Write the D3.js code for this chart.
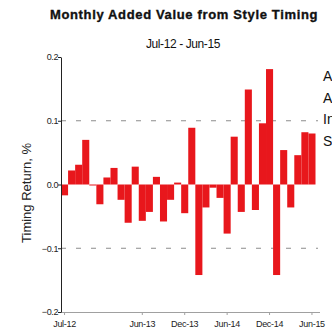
<!DOCTYPE html>
<html lang="en">
<head>
    <meta charset="UTF-8">
    <script src="https://d3js.org/d3.v7.min.js"></script>
    <title>Monthly Added Value from Style Timing</title>
    <style>
        body { margin: 0; background: #fff; }
        svg { display: block; font-family: "Liberation Sans", Arial, sans-serif; }
    </style>
</head>
<body>
    <svg></svg>
    <script>
        // monthly timing return, %
        const months = [
            'Jul-12', 'Aug-12', 'Sep-12', 'Oct-12', 'Nov-12', 'Dec-12',
            'Jan-13', 'Feb-13', 'Mar-13', 'Apr-13', 'May-13', 'Jun-13',
            'Jul-13', 'Aug-13', 'Sep-13', 'Oct-13', 'Nov-13', 'Dec-13',
            'Jan-14', 'Feb-14', 'Mar-14', 'Apr-14', 'May-14', 'Jun-14',
            'Jul-14', 'Aug-14', 'Sep-14', 'Oct-14', 'Nov-14', 'Dec-14',
            'Jan-15', 'Feb-15', 'Mar-15', 'Apr-15', 'May-15', 'Jun-15'
        ];
        const values = [
            -0.017, 0.022, 0.031, 0.070, -0.001, -0.031,
            0.011, 0.026, -0.024, -0.060, 0.028, -0.057,
            -0.043, 0.012, -0.058, -0.024, 0.003, -0.045,
            0.089, -0.142, -0.036, -0.005, -0.021, -0.077,
            0.075, -0.043, 0.149, -0.040, 0.096, 0.181,
            -0.142, 0.054, -0.036, 0.046, 0.082, 0.080
        ];
        const xTicks = ['Jul-12', 'Jun-13', 'Dec-13', 'Jun-14', 'Dec-14', 'Jun-15'];
        const yTicks = [-0.2, -0.1, 0.0, 0.1, 0.2];
        const gridTicks = [-0.1, 0.1];
        const legendCut = ['A', 'A', 'In', 'S'];   // legend, cut off at the right edge

        const width = 332, height = 335;
        const svg = d3.select('svg').attr('width', width).attr('height', height);

        const x = d3.scaleBand().domain(months).range([61, 315.5]).paddingInner(0);
        const y = d3.scaleLinear().domain([-0.2, 0.2]).range([312, 57]);

        // titles
        svg.append('text')
            .attr('x', 184).attr('y', 19)
            .attr('text-anchor', 'middle')
            .attr('font-size', 13).attr('font-weight', 'bold')
            .attr('letter-spacing', 0.65)
            .attr('fill', '#111').attr('stroke', '#111').attr('stroke-width', 0.35)
            .text('Monthly Added Value from Style Timing');

        svg.append('text')
            .attr('x', 183).attr('y', 48)
            .attr('text-anchor', 'middle')
            .attr('font-size', 12).attr('letter-spacing', -0.4)
            .attr('fill', '#111')
            .text('Jul-12 - Jun-15');

        // dashed grid lines
        svg.append('g').selectAll('line')
            .data(gridTicks)
            .join('line')
            .attr('x1', 61).attr('x2', 318)
            .attr('y1', d => y(d)).attr('y2', d => y(d))
            .attr('stroke', '#8c8c8c')
            .attr('stroke-dasharray', '5,10');

        // bars
        svg.append('g').selectAll('rect')
            .data(values)
            .join('rect')
            .attr('x', (d, i) => x(months[i]))
            .attr('width', x.bandwidth())
            .attr('y', d => y(Math.max(0, d)))
            .attr('height', d => Math.max(1, Math.abs(y(d) - y(0))))
            .attr('fill', '#e8171c');

        // x axis
        const xAxis = svg.append('g')
            .attr('transform', `translate(0, ${y(-0.2)})`)
            .call(d3.axisBottom(x).tickValues(xTicks).tickSize(3).tickSizeOuter(0));
        xAxis.select('.domain').attr('stroke', '#a0a0a0').attr('d', 'M61,0.5H320');
        xAxis.selectAll('.tick line').attr('stroke', '#a0a0a0');
        xAxis.selectAll('.tick text')
            .attr('y', 9)
            .attr('font-size', 9).attr('letter-spacing', -0.3)
            .attr('font-family', '"Liberation Sans", Arial, sans-serif')
            .attr('fill', '#222');

        // y axis
        const yAxis = svg.append('g')
            .attr('transform', 'translate(61, 0)')
            .call(d3.axisLeft(y).tickValues(yTicks).tickFormat(d3.format('.1f')).tickSize(3).tickSizeOuter(0));
        yAxis.select('.domain').attr('stroke', '#222');
        yAxis.selectAll('.tick line').attr('stroke', '#222');
        yAxis.selectAll('.tick text')
            .attr('x', -3)
            .attr('font-size', 9).attr('letter-spacing', -0.4)
            .attr('font-family', '"Liberation Sans", Arial, sans-serif')
            .attr('fill', '#222');

        // y label
        svg.append('text')
            .attr('transform', 'translate(31, 193) rotate(-90)')
            .attr('text-anchor', 'middle')
            .attr('font-size', 13)
            .attr('fill', '#222')
            .text('Timing Return, %');

        // legend text cut by the frame
        svg.append('g').selectAll('text')
            .data(legendCut)
            .join('text')
            .attr('x', 323)
            .attr('y', (d, i) => 81 + i * 21.5)
            .attr('font-size', 14)
            .attr('fill', '#111')
            .text(d => d);
    </script>
</body>
</html>
